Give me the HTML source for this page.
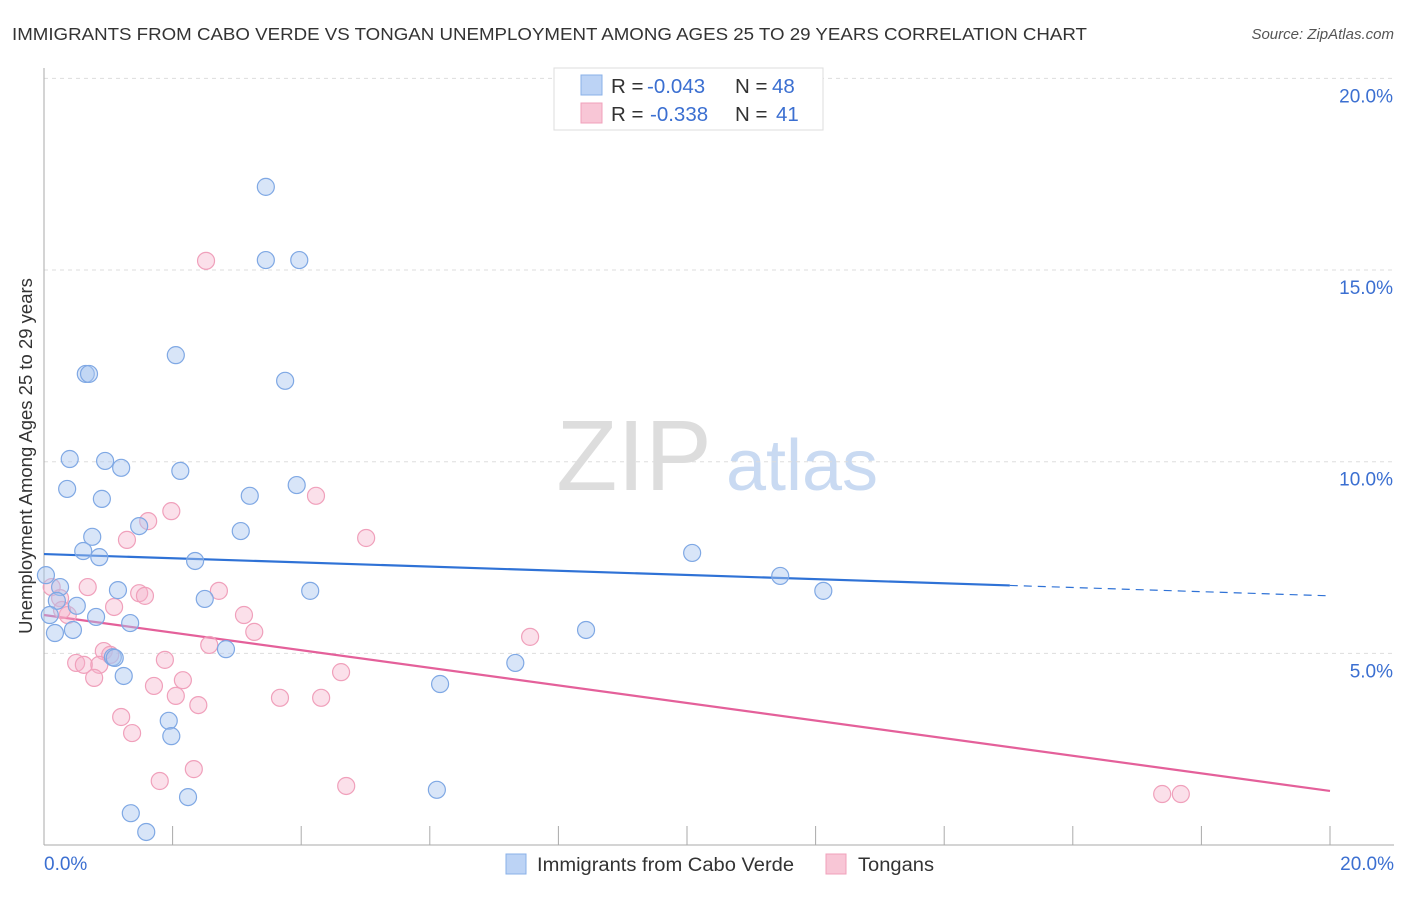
<!DOCTYPE html>
<html><head><meta charset="utf-8"><style>
body{margin:0;background:#fff;font-family:"Liberation Sans",sans-serif}
svg text{font-family:"Liberation Sans",sans-serif}
</style></head><body>
<svg id="chart" width="1406" height="892" viewBox="0 0 1406 892">
<text x="12" y="40" font-size="17.5" fill="#333" textLength="1075" lengthAdjust="spacingAndGlyphs">IMMIGRANTS FROM CABO VERDE VS TONGAN UNEMPLOYMENT AMONG AGES 25 TO 29 YEARS CORRELATION CHART</text>
<text x="1394" y="39" font-size="15" fill="#555" font-style="italic" text-anchor="end">Source: ZipAtlas.com</text>
<text x="634" y="490" font-size="100" fill="#ddd" font-family="Liberation Serif" text-anchor="middle">ZIP</text>
<text x="802" y="490" font-size="72" fill="#c9daf2" text-anchor="middle">atlas</text>
<g id="grid"></g><g id="axes"></g><g id="trends"></g><g id="pts"></g>
<text x="32" y="456" font-size="18.5" fill="#333" text-anchor="middle" transform="rotate(-90 32 456)">Unemployment Among Ages 25 to 29 years</text>
<text x="44" y="870" font-size="19" fill="#3b6fd1">0.0%</text>
<text x="1394" y="870" font-size="19" fill="#3b6fd1" text-anchor="end">20.0%</text>
<g>
<rect x="554" y="68" width="269" height="62" fill="#fff" stroke="#ddd"/>
<rect x="581" y="75" width="21" height="20" fill="#bcd3f5" stroke="#8ab0e8"/>
<rect x="581" y="103" width="21" height="20" fill="#f8c6d6" stroke="#f0a0bb"/>
<text x="611" y="93" font-size="20.5" fill="#333">R = <tspan x="647" fill="#3b6fd1">-0.043</tspan><tspan x="735">N = </tspan><tspan x="772" fill="#3b6fd1">48</tspan></text>
<text x="611" y="121" font-size="20.5" fill="#333">R = <tspan x="650" fill="#3b6fd1">-0.338</tspan><tspan x="735">N = </tspan><tspan x="776" fill="#3b6fd1">41</tspan></text>
</g>
<g>
<rect x="506" y="854" width="20" height="20" fill="#bcd3f5" stroke="#8ab0e8"/>
<text x="537" y="871" font-size="19" fill="#333" textLength="257" lengthAdjust="spacingAndGlyphs">Immigrants from Cabo Verde</text>
<rect x="826" y="854" width="20" height="20" fill="#f8c6d6" stroke="#f0a0bb"/>
<text x="858" y="871" font-size="19" fill="#333" textLength="76" lengthAdjust="spacingAndGlyphs">Tongans</text>
</g>
</svg>
<script>
const yTicks=[5,10,15,20];
const yTickLabels=["5.0%","10.0%","15.0%","20.0%"];
const blueX=[3.45,3.45,3.97,2.05,0.65,0.70,3.75,0.40,0.95,1.20,2.12,0.36,0.90,3.20,3.93,1.48,3.06,0.75,0.61,0.86,2.35,10.08,11.45,0.03,0.25,1.15,4.14,12.12,2.50,0.20,0.51,0.09,0.81,1.34,0.45,0.17,8.43,2.83,1.07,1.10,7.33,1.24,6.16,1.94,1.98,6.11,2.24,1.35,1.59];
const blueY=[17.17,15.26,15.26,12.78,12.29,12.29,12.11,10.07,10.02,9.84,9.76,9.29,9.03,9.11,9.39,8.32,8.19,8.04,7.67,7.51,7.41,7.62,7.02,7.04,6.73,6.65,6.63,6.63,6.42,6.37,6.24,6.00,5.95,5.79,5.61,5.53,5.61,5.11,4.90,4.88,4.75,4.41,4.20,3.24,2.84,1.44,1.25,0.83,0.34];
const pinkX=[2.52,4.23,1.98,1.62,5.01,1.29,0.12,0.68,0.25,1.48,1.57,2.72,1.09,3.11,0.37,0.28,3.27,7.56,2.57,0.93,1.03,1.88,0.50,0.62,0.86,0.78,4.62,2.16,1.71,2.05,3.67,4.31,2.40,1.20,1.37,2.33,1.80,4.70,17.39,17.68];
const pinkY=[15.24,9.11,8.71,8.45,8.01,7.96,6.73,6.73,6.44,6.57,6.50,6.63,6.21,6.00,6.00,6.13,5.56,5.43,5.22,5.06,4.96,4.83,4.75,4.70,4.70,4.36,4.51,4.30,4.15,3.89,3.84,3.84,3.65,3.34,2.92,1.98,1.67,1.54,1.33,1.33];
const blueTrend=[7.59,6.50];
const pinkTrend=[6.00,1.41];
const NS="http://www.w3.org/2000/svg";
const X=v=>44+v*64.3, Y=v=>845-v*38.33;
function mk(tag,attrs,parent){const e=document.createElementNS(NS,tag);for(const k in attrs)e.setAttribute(k,attrs[k]);document.getElementById(parent).appendChild(e);return e;}
yTicks.forEach((t,i)=>{
 const l=mk('line',{x1:44,x2:1394,y1:Y(t),y2:Y(t),stroke:'#ddd','stroke-dasharray':'4 4'},'grid');
 
 
 const tx=mk('text',{x:1393,y:Y(t)+24,'font-size':19,fill:'#3b6fd1','text-anchor':'end'},'grid');
 tx.textContent=yTickLabels[i];
 
 
});
let a=mk('line',{x1:44,x2:44,y1:68,y2:845,stroke:'#aaa'},'axes');


a=mk('line',{x1:44,x2:1394,y1:845,y2:845,stroke:'#aaa'},'axes');


for(let i=1;i<=10;i++){const t=mk('line',{x1:X(i*2),x2:X(i*2),y1:826,y2:845,stroke:'#aaa'},'axes');
 
 }
function trend(tr,col,xEnd,name){
 const f=v=>tr[0]+(tr[1]-tr[0])*v/20;
 const s=mk('line',{x1:X(0),y1:Y(f(0)),x2:X(xEnd),y2:Y(f(xEnd)),stroke:col,'stroke-width':2.2},'trends');
 
 
 if(xEnd<20){const d=mk('line',{x1:X(xEnd),y1:Y(f(xEnd)),x2:X(20),y2:Y(f(20)),stroke:col,'stroke-width':1.2,'stroke-dasharray':'8 6'},'trends');
 
 }
}
trend(blueTrend,'#2f72d6',15.02,'blue-trend-line');
trend(pinkTrend,'#e4609a',20,'pink-trend-line');
function pts(xs,ys,fill,stroke,name){xs.forEach((v,i)=>{
 const c=mk('circle',{cx:X(v),cy:Y(ys[i]),r:8.5,fill:fill,stroke:stroke,'stroke-width':1.2},'pts');
 
 
});}
pts(pinkX,pinkY,'rgba(246,178,202,0.4)','#f0a0bb','tongans-point');
pts(blueX,blueY,'rgba(168,198,240,0.45)','#7fa8e4','cabo-verde-point');
</script>
</body></html>
